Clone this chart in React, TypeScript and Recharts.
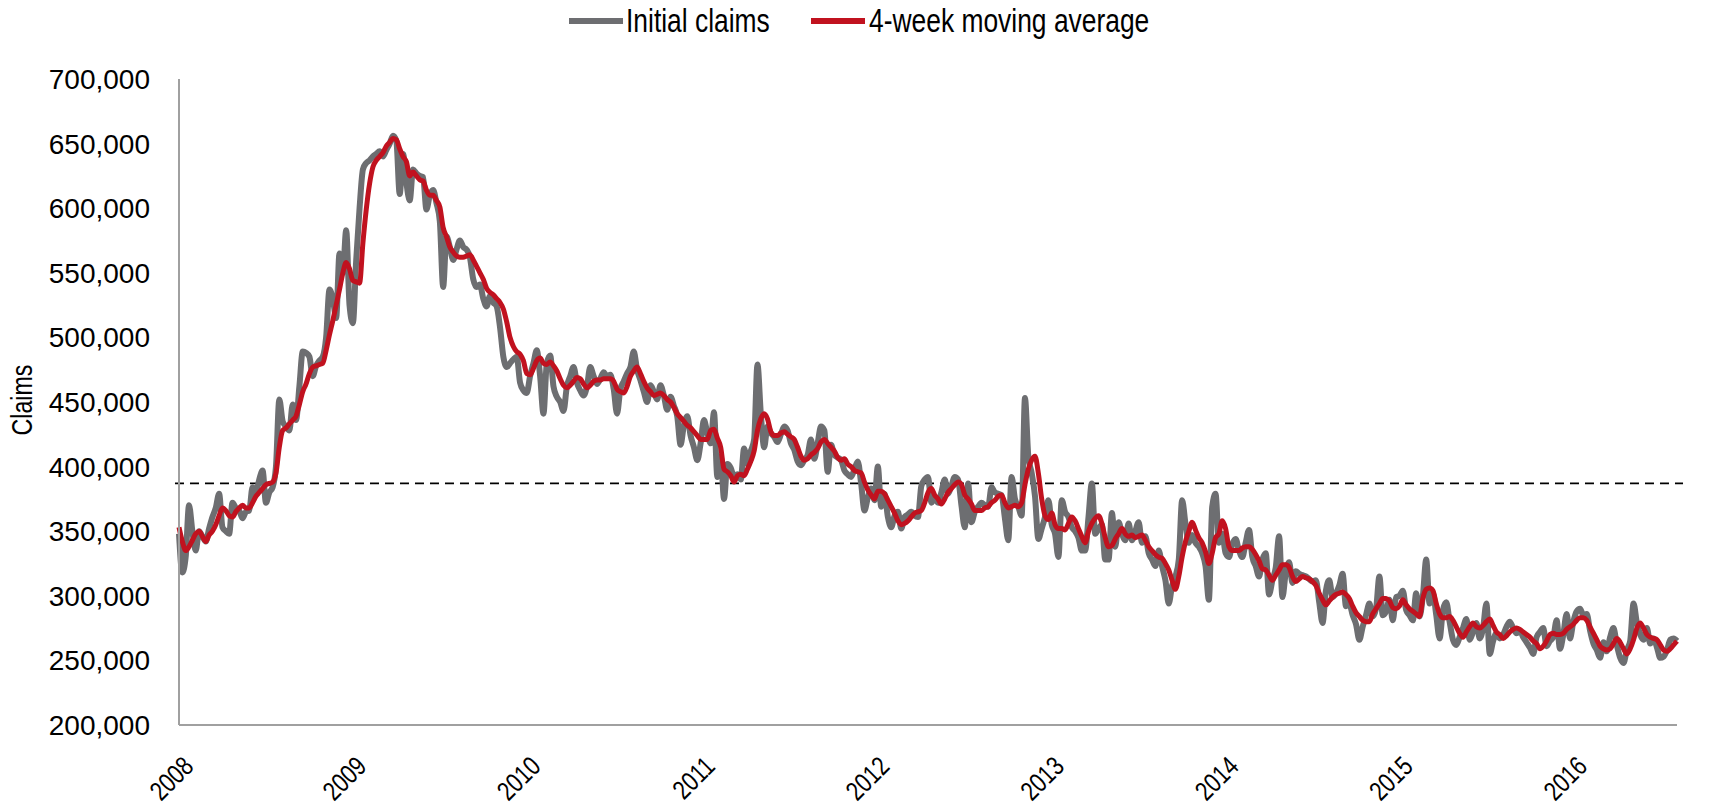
import React from 'react';
import { LineChart, Line, XAxis, YAxis, ReferenceLine } from 'recharts';

// Weekly initial jobless claims, thousands. First week ends Sat Jan 5, 2008.
const initialClaims = [
  // 2008
  348, 318, 330, 370, 350, 335, 350, 346, 342, 352, 361, 368, 379,
  353, 350, 348, 372, 368, 366, 360, 365, 366, 384, 380, 390, 397,
  372, 380, 384, 400, 452, 435, 431, 428, 448, 436, 462, 489, 488,
  485, 470, 478, 482, 485, 500, 537, 530, 515, 565, 550, 583, 525,
  // 2009
  511, 560, 600, 630, 635, 637, 640, 642, 644, 640, 645, 650, 656,
  652, 611, 642, 620, 606, 630, 627, 625, 624, 599, 610, 614, 604,
  590, 539, 578, 570, 560, 568, 575, 570, 568, 562, 545, 539, 541,
  530, 524, 532, 527, 524, 508, 485, 477, 480, 483, 485, 465, 459,
  // 2010
  457, 470, 480, 490, 470, 441, 480, 486, 462, 454, 450, 443, 462,
  470, 477, 465, 459, 455, 462, 477, 470, 464, 468, 473, 470, 471,
  460, 441, 460, 466, 472, 477, 489, 475, 467, 458, 450, 463, 458,
  452, 463, 455, 444, 454, 447, 439, 417, 432, 439, 424, 415, 405,
  // 2011
  418, 436, 426, 418, 442, 392, 408, 375, 402, 399, 392, 394, 390,
  414, 402, 412, 421, 479, 441, 415, 431, 426, 423, 419, 425, 431,
  428, 418, 413, 404, 401, 405, 409, 421, 406, 418, 431, 428, 396,
  417, 409, 407, 405, 397, 394, 392, 398, 404, 387, 366, 376, 383,
  // 2012
  374, 400, 369, 379, 361, 353, 362, 365, 352, 361, 363, 365, 362,
  361, 385, 390, 392, 372, 375, 372, 380, 390, 379, 385, 392, 390,
  370, 353, 387, 357, 365, 369, 372, 370, 369, 384, 380, 379, 378,
  360, 343, 392, 375, 369, 362, 453, 408, 395, 377, 344, 352, 361,
  // 2013
  374, 355, 348, 330, 374, 365, 361, 353, 350, 345, 335, 335, 361,
  387, 348, 352, 355, 328, 328, 364, 338, 357, 348, 343, 356, 343,
  350, 357, 341, 346, 333, 328, 323, 335, 323, 312, 294, 308, 315,
  328, 374, 356, 341, 347, 341, 338, 333, 323, 297, 369, 379, 341,
  // 2014
  348, 333, 330, 340, 344, 335, 330, 341, 351, 330, 323, 315, 328,
  333, 301, 312, 322, 346, 299, 318, 326, 310, 319, 317, 316, 315,
  313, 311, 312, 295, 279, 304, 312, 299, 302, 308, 317, 292, 294,
  285, 278, 266, 276, 285, 294, 284, 290, 315, 285, 288, 297, 281,
  // 2015
  299, 300, 304, 289, 285, 281, 302, 284, 300, 328, 294, 302, 285,
  267, 289, 295, 280, 266, 262, 268, 275, 282, 266, 272, 279, 267,
  275, 294, 255, 265, 271, 267, 270, 276, 280, 275, 271, 273, 268,
  264, 260, 255, 268, 272, 275, 261, 265, 268, 281, 259, 270, 286,
  // 2016
  267, 280, 288, 290, 285, 286, 273, 263, 258, 252, 264, 257, 268,
  275, 262, 252, 248, 258, 265, 294, 279, 270, 266, 275, 263, 267,
  260, 252, 253, 258, 266, 267, 265,
];

const movingAverage = [
  // 2008
  353, 342, 335, 338, 343, 348, 350, 346, 342, 347, 350, 355, 362,
  368, 366, 362, 361, 365, 368, 370, 368, 368, 372, 377, 380, 383,
  386, 387, 388, 395, 415, 428, 430, 433, 436, 439, 448, 458, 464,
  472, 477, 478, 479, 480, 490, 502, 513, 525, 537, 550, 558, 553,
  // 2009
  544, 543, 542, 573, 599, 619, 632, 637, 640, 643, 648, 651, 654,
  653, 646, 640, 636, 625, 628, 625, 622, 621, 614, 610, 610, 606,
  601, 585, 578, 570, 566, 563, 562, 562, 563, 564, 560, 555, 550,
  545, 538, 535, 533, 530, 527, 522, 512, 500, 493, 489, 487, 482,
  // 2010
  472, 471, 476, 482, 484, 480, 479, 481, 478, 474, 468, 463, 461,
  463, 466, 469, 468, 464, 461, 463, 466, 467, 467, 468, 468, 468,
  466, 460, 458, 457, 462, 470, 474, 477, 472, 466, 461, 458, 455,
  456, 457, 455, 452, 450, 446, 441, 438, 435, 432, 430, 427, 424,
  // 2011
  421, 421, 421, 428, 429, 422, 415, 398, 396, 393, 388, 393, 394,
  393, 398, 404, 412, 428, 437, 441, 437, 427, 424, 424, 426, 427,
  425, 423, 421, 415, 408, 405, 406, 409, 411, 414, 419, 421, 418,
  415, 412, 407, 405, 406, 402, 400, 397, 396, 395, 388, 382, 378,
  // 2012
  375, 381, 381, 379, 374, 369, 364, 358, 355, 356, 358, 361, 364,
  365, 366, 372, 380, 383, 378, 375, 371, 375, 380, 383, 386, 388,
  386, 378, 375, 371, 366, 366, 366, 368, 369, 372, 374, 377, 378,
  372, 368, 369, 370, 369, 372, 386, 398, 405, 408, 395, 375, 362,
  // 2013
  359, 364, 355, 352, 352, 351, 356, 361, 358, 352, 346, 341, 350,
  356, 360, 362, 356, 345, 338, 339, 344, 348, 352, 348, 346, 347,
  345, 346, 347, 343, 338, 335, 332, 330, 329, 325, 320, 312, 305,
  315, 330, 342, 350, 357, 351, 345, 341, 334, 325, 333, 345, 348,
  // 2014
  358, 352, 338, 335, 335, 335, 337, 338, 338, 336, 332, 327, 321,
  320, 316, 312, 316, 320, 324, 324, 322, 315, 311, 313, 315, 314,
  313, 311, 308, 302, 297, 293, 296, 299, 301, 302, 303, 301, 298,
  292, 287, 284, 281, 280, 280, 286, 290, 294, 298, 298, 296, 291,
  // 2015
  290, 292, 297, 293, 290, 288, 286, 284, 298, 305, 306, 304, 294,
  286, 283, 283, 284, 281, 276, 271, 268, 272, 276, 279, 276, 275,
  277, 280, 282, 277, 272, 270, 267, 269, 272, 274, 275, 274, 272,
  270, 268, 265, 263, 259, 261, 265, 270, 271, 270, 270, 271, 274,
  // 2016
  276, 278, 281, 283, 283, 281, 276, 271, 266, 261, 259, 258, 259,
  263, 267, 264, 259, 255, 259, 266, 275, 279, 275, 270, 268, 267,
  266, 262, 258, 257, 259, 262, 265,
];

const YEARS = [2008, 2009, 2010, 2011, 2012, 2013, 2014, 2015, 2016];
const Y_TICKS = [200000, 250000, 300000, 350000, 400000, 450000, 500000, 550000, 600000, 650000, 700000];
const REFERENCE_LEVEL = 387000;

const FIRST_WEEK = Date.UTC(2008, 0, 5);
const WEEK_MS = 7 * 24 * 3600 * 1000;
const yearTicks = YEARS.map((y) => Math.max(0, (Date.UTC(y, 0, 1) - FIRST_WEEK) / WEEK_MS));

const data = initialClaims.map((v, i) => ({
  week: i,
  claims: v * 1000,
  avg: movingAverage[i] * 1000,
}));

const lastWeek = data.length - 1;

// no narrow face installed, so the condensed look is done with a horizontal squeeze
const SANS = "'Liberation Sans', Arial, sans-serif";
const SQUEEZE = 0.8;
const GRAY = '#6d6e71';
const RED = '#c1121f';
const AXIS = '#a0a0a0';

const YearTick = (props: any) => {
  const { x, y, payload } = props;
  const year = YEARS[yearTicks.indexOf(payload.value)];
  const ax = x + 16;
  const ay = y + 41;
  return (
    <text
      x={ax}
      y={ay}
      transform={`translate(${ax} ${ay}) rotate(-45) scale(${SQUEEZE} 1) translate(${-ax} ${-ay})`}
      textAnchor="end"
      fontFamily={SANS}
      fontSize={27}
      fill="#000"
    >
      {year}
    </text>
  );
};

const ClaimsLabel = () => (
  <text
    x={22}
    y={400}
    transform={`translate(22 400) rotate(-90) scale(${SQUEEZE} 1) translate(-22 -400)`}
    textAnchor="middle"
    dominantBaseline="central"
    fontFamily={SANS}
    fontSize={29}
    fill="#000"
  >
    Claims
  </text>
);

const legendText: React.CSSProperties = {
  position: 'absolute',
  top: 21,
  transform: `translateY(-50%) scaleX(${SQUEEZE})`,
  transformOrigin: 'left center',
  whiteSpace: 'nowrap',
  fontFamily: SANS,
  fontSize: 33,
  lineHeight: '38px',
  color: '#000',
};

const swatch = (color: string, left: number): React.CSSProperties => ({
  position: 'absolute',
  left,
  top: 18,
  width: 54,
  height: 6,
  background: color,
});

const App = () => {
  return (
    <div style={{ position: 'absolute', left: 0, top: 0, width: 1719, height: 810, background: '#fff' }}>
      <LineChart
        width={1719}
        height={810}
        data={data}
        margin={{ top: 79, right: 42, bottom: 0, left: 0 }}
      >
        <XAxis
          dataKey="week"
          type="number"
          domain={[0, lastWeek]}
          ticks={yearTicks}
          interval={0}
          height={85}
          axisLine={{ stroke: AXIS, strokeWidth: 2 }}
          tickLine={false}
          tickSize={0}
          tick={<YearTick />}
        />
        <YAxis
          type="number"
          domain={[200000, 700000]}
          ticks={Y_TICKS}
          interval={0}
          width={179}
          axisLine={{ stroke: AXIS, strokeWidth: 2 }}
          tickLine={false}
          tickSize={0}
          tickMargin={29}
          tickFormatter={(v: number) => v.toLocaleString('en-US')}
          tick={{ fill: '#000', fontSize: 28, fontFamily: SANS }}
          label={ClaimsLabel}
        />
        <ReferenceLine
          segment={[
            { x: -1.2, y: REFERENCE_LEVEL },
            { x: lastWeek + 1.8, y: REFERENCE_LEVEL },
          ]}
          ifOverflow="visible"
          stroke="#000"
          strokeWidth={1.8}
          strokeDasharray="9 6"
        />
        <Line
          type="monotone"
          dataKey="claims"
          stroke={GRAY}
          strokeWidth={6}
          strokeLinejoin="round"
          dot={false}
          isAnimationActive={false}
        />
        <Line
          type="monotone"
          dataKey="avg"
          stroke={RED}
          strokeWidth={5}
          strokeLinejoin="round"
          dot={false}
          isAnimationActive={false}
        />
      </LineChart>
      <div style={{ position: 'absolute', left: 0, top: 0, width: 1719, height: 44 }}>
        <span style={swatch(GRAY, 569)} />
        <span style={{ ...legendText, left: 626 }}>Initial claims</span>
        <span style={swatch(RED, 811)} />
        <span style={{ ...legendText, left: 869 }}>4-week moving average</span>
      </div>
    </div>
  );
};

export default App;
